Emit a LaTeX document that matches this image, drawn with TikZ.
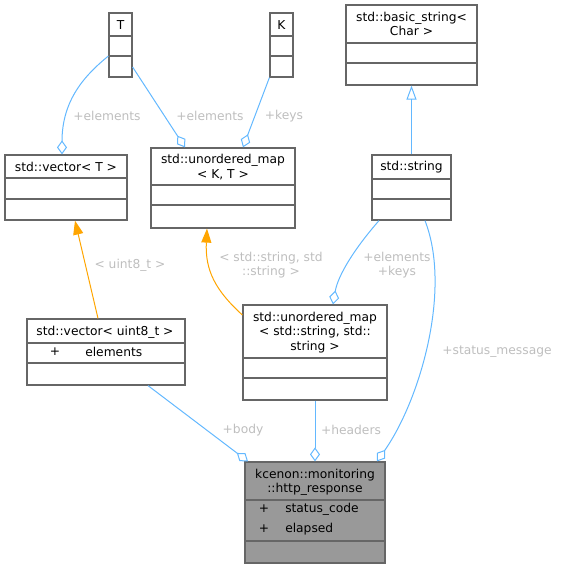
\documentclass[tikz,border=0pt]{standalone}
\usepackage{fontspec}
\setmainfont{DejaVu Sans}
\usetikzlibrary{arrows.meta,fit}
\definecolor{edgeblue}{HTML}{63B8FF}
\definecolor{tmplorange}{HTML}{FFA500}
\definecolor{labelgrey}{HTML}{BEBEBE}
\definecolor{boxgrey}{HTML}{666666}
\definecolor{fillgrey}{HTML}{999999}
\tikzset{
  cls/.style={draw=boxgrey, line width=0.9pt, inner sep=0pt, fill=white},
  boxline/.style={draw=boxgrey, line width=0.9pt},
  txt/.style={font=\fontsize{9.2}{10.6}\selectfont, inner sep=0pt, align=center},
  lbl/.style={txt, text=labelgrey},
  agg/.style={draw=edgeblue, line width=0.75pt, -{Diamond[open,length=10.5pt,width=7.5pt]}},
  inh/.style={draw=edgeblue, line width=0.75pt, -{Triangle[open,length=10.5pt,width=7.5pt]}},
  tmpl/.style={draw=tmplorange, line width=0.75pt, -{Triangle[length=10.5pt,width=7.5pt,fill=tmplorange]}},
}

\begin{document}
\begin{tikzpicture}[x=0.75pt,y=-0.75pt]
      \useasboundingbox (0,0) rectangle (561,568);
      % class boxes
      \foreach \n/\a/\b/\c/\d in {T/109/13/132/77, K/270/13/293/77, vecT/5/155/127/220,
          mapKT/151/148/295/228, bstr/346/5/477/85, str/372/155/451/220,
          vecu8/27/319/185/385, mapss/243/305/387/400}
        \node[cls, fit={(\a,\b) (\c,\d)}] (\n) {};
      \node[cls, fill=fillgrey, fit={(245,462) (385,563)}] (http) {};
      \foreach \n/\a/\b in {T/36/56, K/36/56, vecT/178/199, mapKT/185/205, bstr/43/63,
          str/179/199, vecu8/343/363, mapss/358/378, http/500/541} {
        \draw[boxline] (\n.west |- 0,\a) -- (\n.east |- 0,\a);
        \draw[boxline] (\n.west |- 0,\b) -- (\n.east |- 0,\b);
      }
      % names
      \node[txt] (Tname) at (120.5,25) {T};
      \node[txt] (Kname) at (281.5,25) {K};
      \node[txt] (vecTname) at (66,167) {std::vector< T >};
      \node[txt] (mapKTname) at (223,167) {std::unordered\_map\\< K, T >};
      \node[txt] (bstrname) at (411.5,23.5) {std::basic\_string<\\Char >};
      \node[txt] (strname) at (411.5,167) {std::string};
      \node[txt] (vecu8name) at (105,332) {std::vector< uint8\_t >};
      \node[txt] (mapssname) at (315,332.5) {std::unordered\_map\\< std::string, std::\\string >};
      \node[txt] (httpname) at (315,482) {kcenon::monitoring\\::http\_response};
      % members
      \node[txt] (vecu8plus) at (55,352) {+};
      \node[txt, anchor=west] (vecu8elem) at (85,352) {elements};
      \node[txt] (httpplusa) at (264,509) {+};
      \node[txt, anchor=west] (httpcode) at (285,509) {status\_code};
      \node[txt] (httpplusb) at (264,529) {+};
      \node[txt, anchor=west] (httpelapsed) at (285,529) {elapsed};
      % relations
      \draw[agg] (T.west |- 0,56) .. controls (85,75) and (62,100) .. (vecT.north -| 62,0);
      \draw[agg] (T.east |- 0,67) -- (mapKT.north -| 185,0);
      \draw[agg] (K.south west) -- (mapKT.north -| 243,0);
      \draw[inh] (str.north) -- (bstr.south);
      \draw[tmpl] (vecu8.north -| 98,0) -- (vecT.south -| 75,0);
      \draw[tmpl] (mapss.west |- 0,315) .. controls (215,290) and (205,270) .. (mapKT.south -| 207,0);
      \draw[agg] (str.south -| 379,0) .. controls (355,248) and (338,275) .. (mapss.north -| 333,0);
      \draw[agg] (str.south -| 425,0) .. controls (452,290) and (420,400) .. (http.north -| 377,0);
      \draw[agg] (vecu8.south -| 148,0) -- (http.north -| 248,0);
      \draw[agg] (mapss.south -| 315,0) -- (http.north -| 315,0);
      % labels
      \node[lbl] (lelemv) at (107,116) {+elements};
      \node[lbl] (lelemm) at (210,116) {+elements};
      \node[lbl] (lkeys) at (284,116) {+keys};
      \node[lbl] (lu8) at (130,265) {< uint8\_t >};
      \node[lbl] (lss) at (271,265.5) {< std::string, std\\::string >};
      \node[lbl] (lelemkeys) at (397,265.5) {+elements\\+keys};
      \node[lbl] (lstatus) at (497,352) {+status\_message};
      \node[lbl] (lbody) at (243,430) {+body};
      \node[lbl] (lheaders) at (351,430) {+headers};
    \end{tikzpicture}
\end{document}
